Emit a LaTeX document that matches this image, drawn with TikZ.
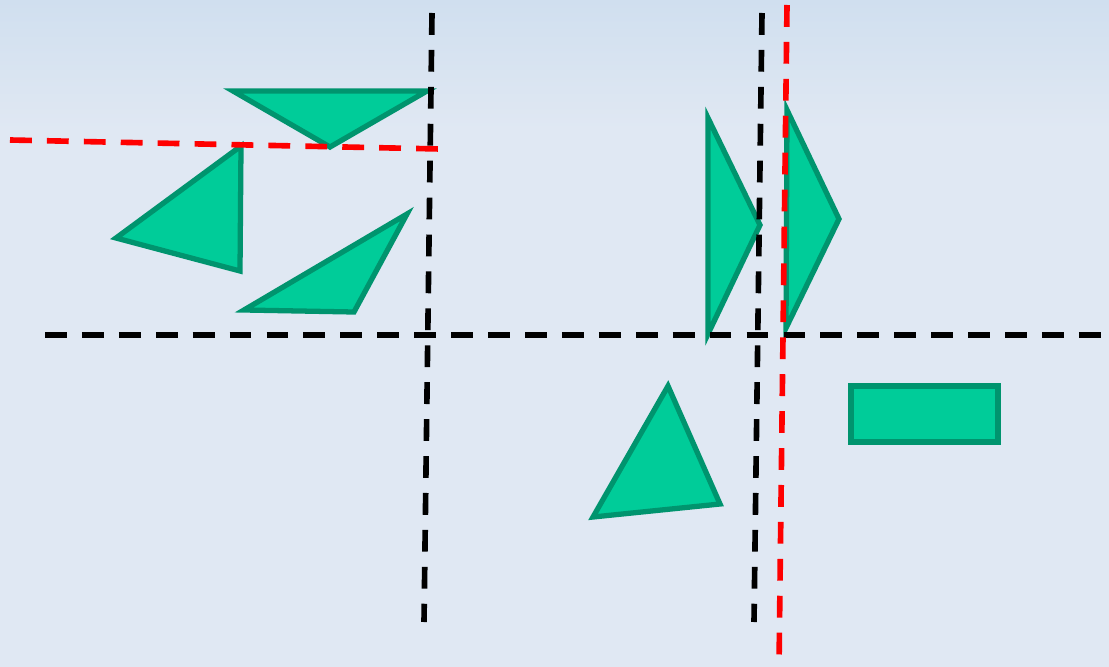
\documentclass[tikz,border=0pt]{standalone}
\usepackage{tikz}
\usetikzlibrary{calc}
\usepackage{xcolor}
\definecolor{BGT}{RGB}{208,223,239}
\definecolor{BGB}{RGB}{224,232,243}
\definecolor{SF}{RGB}{0,204,153}
\definecolor{SE}{RGB}{0,148,110}
\definecolor{RD}{RGB}{255,0,0}

\begin{document}
\begin{tikzpicture}[
  x=0.01cm, y=-0.01cm,
  shp/.style={draw=SE, fill=SF, line width=1.5pt, line join=miter},
  blkdash/.style={draw=black, line width=1.6pt, dash pattern=on 6.2pt off 4.3pt},
  reddash/.style={draw=RD, line width=1.6pt, dash pattern=on 6.2pt off 4.3pt}
]
% Background
\useasboundingbox (0,0) rectangle (1109,667);
\fill[BGB] (0,0) rectangle (1109,667);
\shade[top color=BGT, bottom color=BGB] (0,0) rectangle (1109,130);

% Triangles, left group
\draw[shp] (233,91) -- (427,91) -- (330,147) -- cycle;
\draw[shp] (241,146) -- (240,271) -- (116,238) -- cycle;
\draw[shp] (407,214) -- (354,312) -- (244,310) -- cycle;

% Triangles, right group
\draw[shp] (708,118) -- (708,334) -- (760,225) -- cycle;
\draw[shp] (787,110) -- (786,328) -- (839,219) -- cycle;
\draw[shp] (668,386) -- (720,504) -- (593,517) -- cycle;

% Rectangle
\draw[shp] (851,386) rectangle (998,442);

% Black dashed axes
\draw[blkdash] (45,335) -- (1109,335);
\draw[blkdash] (432,13) -- (424,622);
\draw[blkdash] (762,13) -- (754,622);

% Red dashed lines
\draw[reddash] (10,140) -- (440,149);
\draw[reddash] (787,5) -- (779,667);
\end{tikzpicture}
\end{document}
